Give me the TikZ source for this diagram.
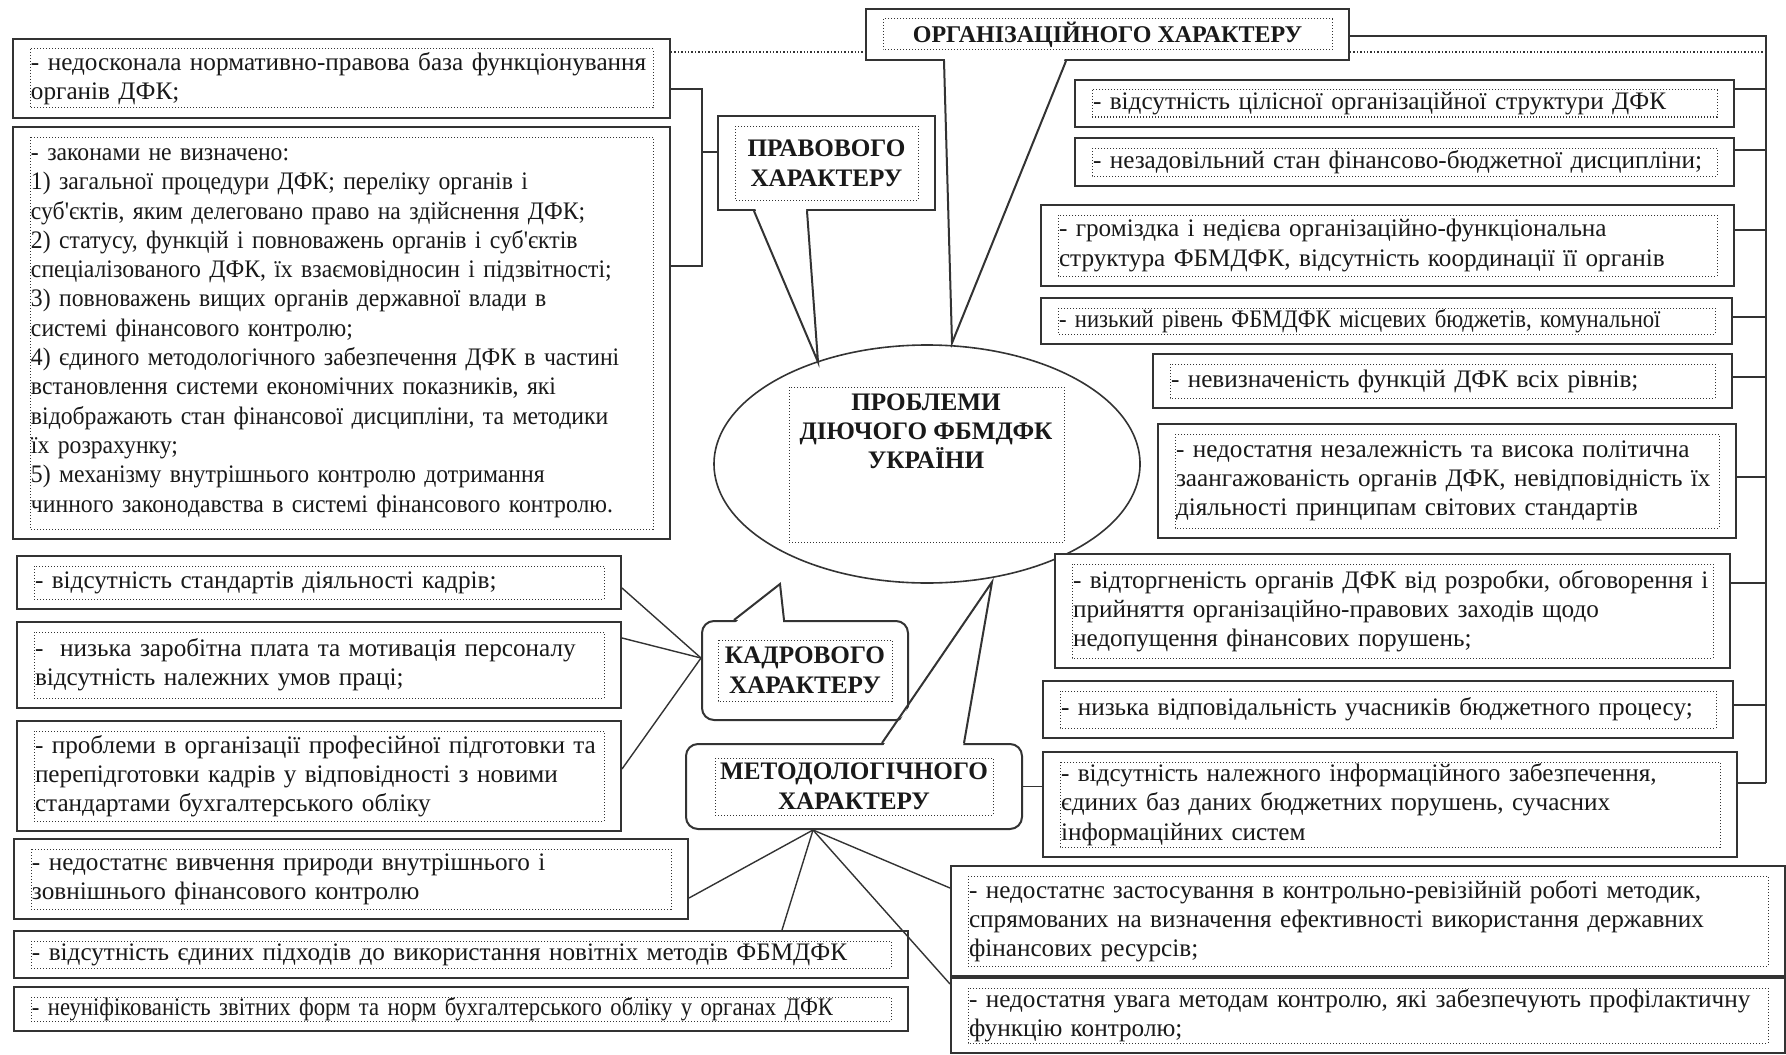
\documentclass[tikz,border=0pt]{standalone}
\usepackage{fontspec}
\setmainfont{Liberation Serif}
\newfontfamily\narrowfont[FakeStretch=0.9]{Liberation Serif}
\newfontfamily\condfont[FakeStretch=0.94]{Liberation Serif}
\usetikzlibrary{shapes.geometric,calc}
\definecolor{ink}{gray}{0.2}
\def\dotinx{8.5pt}
\def\dotiny{5pt}
\tikzset{dotin/.code 2 args={\def\dotinx{#1}\def\dotiny{#2}},
  dotframe/.style={path picture={\draw[ink, sharp corners, densely dotted, line width=0.5pt] ([shift={(\dotinx,-\dotiny)}]path picture bounding box.north west) rectangle ([shift={(-\dotinx,\dotiny)}]path picture bounding box.south east);}}}

\begin{document}
\begin{tikzpicture}[x=0.5pt, y=-0.5pt,
  every node/.style={font=\fontsize{12.6}{14.65}\selectfont, text=black!90},
  probbox/.style={draw=ink, line width=1pt, fill=white, align=left, anchor=north west, inner xsep=9pt, inner ysep=3pt, dotframe},
  catbox/.style={draw=ink, line width=1pt, fill=white, align=center, inner sep=0pt, dotframe, font=\fontsize{12.6}{15}\selectfont\bfseries},
  link/.style={ink, line width=0.7pt}]
\useasboundingbox (0,0) rectangle (1786,1054);

\node[draw=ink, line width=0.8pt, ellipse, fill=white, minimum width=213pt, minimum height=119pt, inner sep=0pt] (centre) at (927,464) {};
\node[draw=ink, densely dotted, line width=0.5pt, minimum width=137.5pt, minimum height=77.5pt, inner sep=0pt] (centrebox) at (926.5,464.5) {};
\node[anchor=north, align=center, inner sep=0pt, font=\fontsize{12.6}{14.65}\selectfont\bfseries] (centretext) at (926,393) {ПРОБЛЕМИ\\ДІЮЧОГО ФБМДФК\\УКРАЇНИ};

\node[catbox, minimum width=108.5pt, minimum height=47pt] (pravo) at (826.5,163) {ПРАВОВОГО\\ХАРАКТЕРУ};
\node[catbox, minimum width=241.5pt, minimum height=25.5pt, font=\fontsize{12}{14}\selectfont\bfseries] (org) at (1107.5,34.5) {ОРГАНІЗАЦІЙНОГО ХАРАКТЕРУ};
\node[catbox, rounded corners=6pt, minimum width=103pt, minimum height=49.5pt, dotin={8pt}{9.5pt}] (kadr) at (805,670.5) {КАДРОВОГО\\ХАРАКТЕРУ};
\node[catbox, rounded corners=6pt, minimum width=168pt, minimum height=42.5pt, dotin={14.5pt}{7pt}] (metod) at (854,786.5) {МЕТОДОЛОГІЧНОГО\\ХАРАКТЕРУ};

\node[probbox, text width=310.5pt, minimum height=39.5pt] (a1) at (12,38) {- недосконала нормативно-правова база функціонування\\органів ДФК;};
\node[probbox, text width=310.5pt, minimum height=206pt, font=\condfont\fontsize{12.6}{14.65}\selectfont] (a2) at (12,126) {- законами не визначено:\\1) загальної процедури ДФК; переліку органів і\\суб'єктів, яким делеговано право на здійснення ДФК;\\2) статусу, функцій і повноважень органів і суб'єктів\\спеціалізованого ДФК, їх взаємовідносин і підзвітності;\\3) повноважень вищих органів державної влади в\\системі фінансового контролю;\\4) єдиного методологічного забезпечення ДФК в частині\\встановлення системи економічних показників, які\\відображають стан фінансової дисципліни, та методики\\їх розрахунку;\\5) механізму внутрішнього контролю дотримання\\чинного законодавства в системі фінансового контролю.};
\node[probbox, text width=284pt, minimum height=26.5pt] (k1) at (16,555) {- відсутність стандартів діяльності кадрів;};
\node[probbox, text width=284pt, minimum height=43pt] (k2) at (16,621) {-\ \ низька заробітна плата та мотивація персоналу\\відсутність належних умов праці;};
\node[probbox, text width=284pt, minimum height=55pt] (k3) at (16,720) {- проблеми в організації професійної підготовки та\\перепідготовки кадрів у відповідності з новими\\стандартами бухгалтерського обліку};
\node[probbox, text width=319pt, minimum height=40pt] (m1) at (13,838) {- недостатнє вивчення природи внутрішнього і\\зовнішнього фінансового контролю};
\node[probbox, text width=429pt, minimum height=23.5pt] (m2) at (13,930) {- відсутність єдиних підходів до використання новітніх методів ФБМДФК};
\node[probbox, text width=429pt, minimum height=22pt, font=\narrowfont\fontsize{12.6}{14.65}\selectfont] (m3) at (13,986) {- неуніфікованість звітних форм та норм бухгалтерського обліку у органах ДФК};

\node[probbox, text width=311.5pt, minimum height=23.5pt] (o1) at (1074,79) {- відсутність цілісної організаційної структури ДФК};
\node[probbox, text width=311.5pt, minimum height=24pt] (o2) at (1074,137) {- незадовільний стан фінансово-бюджетної дисципліни;};
\node[probbox, text width=328.5pt, minimum height=40.5pt] (o3) at (1040,204) {- громіздка і недієва організаційно-функціональна\\структура ФБМДФК, відсутність координації її органів};
\node[probbox, text width=327.5pt, minimum height=23pt, font=\narrowfont\fontsize{12.6}{14.65}\selectfont] (o4) at (1040,297) {- низький рівень ФБМДФК місцевих бюджетів, комунальної};
\node[probbox, text width=271.5pt, minimum height=27pt] (o5) at (1152,353) {- невизначеність функцій ДФК всіх рівнів;};
\node[probbox, text width=271pt, minimum height=57pt] (o6) at (1157,423) {- недостатня незалежність та висока політична\\заангажованість органів ДФК, невідповідність їх\\діяльності принципам світових стандартів};
\node[probbox, text width=319.5pt, minimum height=57pt] (o7) at (1054,553) {- відторгненість органів ДФК від розробки, обговорення і\\прийняття організаційно-правових заходів щодо\\недопущення фінансових порушень;};
\node[probbox, text width=327pt, minimum height=28.5pt] (o8) at (1042,680) {- низька відповідальність учасників бюджетного процесу;};
\node[probbox, text width=329pt, minimum height=52.5pt] (o9) at (1042,751) {- відсутність належного інформаційного забезпечення,\\єдиних баз даних бюджетних порушень, сучасних\\інформаційних систем};
\node[probbox, text width=399pt, minimum height=55pt] (m4) at (950,865) {- недостатнє застосування в контрольно-ревізійній роботі методик,\\спрямованих на визначення ефективності використання державних\\фінансових ресурсів;};
\node[probbox, text width=399pt, minimum height=37.5pt] (m5) at (950,977) {- недостатня увага методам контролю, які забезпечують профілактичну\\функцію контролю;};

\coordinate (pravotip) at (818,362);
\coordinate (orgtip) at (952,343);
\coordinate (kadrtip) at (780,584);
\coordinate (metodtip) at (992,582);
\fill[white] ($(pravo.south west)+(38,-3)$) -- (pravotip) -- ($(pravo.south west)+(89,-3)$) -- cycle;
\draw[ink, line width=1pt] ($(pravo.south west)+(37,0)$) -- (pravotip) -- ($(pravo.south west)+(90,0)$);
\fill[white] ($(org.south west)+(80,-3)$) -- (orgtip) -- ($(org.south west)+(200,-3)$) -- cycle;
\draw[ink, line width=1pt] ($(org.south west)+(79,0)$) -- (orgtip) -- ($(org.south west)+(201,0)$);
\fill[white] ($(kadr.north west)+(34,3)$) -- (kadrtip) -- ($(kadr.north west)+(82,3)$) -- cycle;
\draw[ink, line width=1pt] ($(kadr.north west)+(33,0)$) -- (kadrtip) -- ($(kadr.north west)+(83,0)$);
\fill[white] ($(metod.north west)+(198,3)$) -- (metodtip) -- ($(metod.north west)+(278,3)$) -- cycle;
\draw[ink, line width=1pt] ($(metod.north west)+(197,0)$) -- (metodtip) -- ($(metod.north west)+(279,0)$);

\coordinate (lbtop) at (702,89);
\coordinate (lbbot) at (702,266);
\coordinate (lbmid) at (702,152);
\draw[link] (a1.east |- lbtop) -- (lbtop) -- (lbbot) -- (a2.east |- lbbot);
\draw[link] (lbmid) -- (pravo.west |- lbmid);
\draw[link, densely dotted] (a1.east |- 0,52) -- (org.west |- 0,52);

\coordinate (rbtop) at (1766,36);
\coordinate (rbbot) at (1766,783);
\draw[link] (org.east |- rbtop) -- (rbtop) -- (rbbot);
\draw[link, densely dotted] (org.east |- 0,52) -- (rbtop |- 0,52);
\foreach \bx/\yy in {o1/89,o2/150,o3/230,o4/317,o5/377,o6/477,o7/583,o8/705,o9/783}
  \draw[link] (\bx.east |- 0,\yy) -- (rbtop |- 0,\yy);

\draw[link] ([yshift=-2.75pt]k1.east) -- ([yshift=6.25pt]kadr.west);
\draw[link] ([yshift=13.5pt]k2.east) -- ([yshift=6.25pt]kadr.west);
\draw[link] ([yshift=3.5pt]k3.east) -- ([yshift=6.25pt]kadr.west);

\coordinate (metodfoot) at ([xshift=-20.5pt]metod.south);
\draw[link] (metodfoot) -- ([yshift=-9.5pt]m1.east);
\draw[link] (metodfoot) -- (m2.north -| 782,0);
\draw[link] (metodfoot) -- ([yshift=16.5pt]m4.west);
\draw[link] (metodfoot) -- ([yshift=15.75pt]m5.west);
\draw[link] (metod.east) -- (metod.east -| o9.west);
\end{tikzpicture}
\end{document}
